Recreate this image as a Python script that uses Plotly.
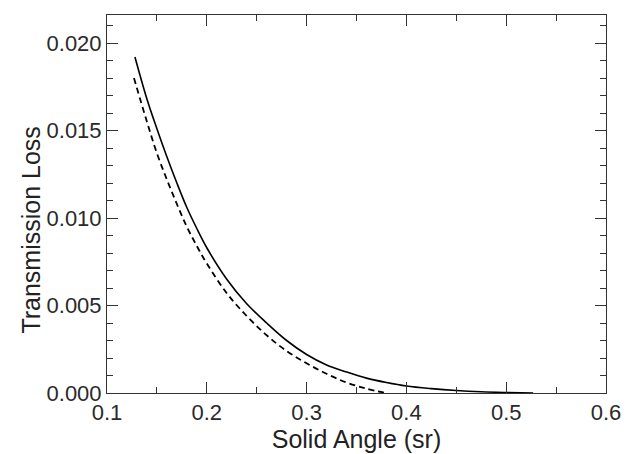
import plotly.graph_objects as go

# Solid curve
solid_x = [0.128, 0.14, 0.15, 0.16, 0.17, 0.18, 0.19, 0.20, 0.22, 0.24, 0.26, 0.28,
           0.30, 0.32, 0.34, 0.36, 0.38, 0.40, 0.425, 0.45, 0.475, 0.50, 0.527]
solid_y = [0.0192, 0.0168, 0.0151, 0.0135, 0.0120, 0.0106, 0.0094, 0.0083, 0.0065,
           0.0051, 0.0040, 0.0030, 0.0022, 0.0016, 0.0012, 0.00085, 0.0006, 0.0004,
           0.00025, 0.00014, 0.00007, 0.00003, 0.0]

# Dashed curve
dash_x = [0.127, 0.14, 0.15, 0.16, 0.17, 0.18, 0.19, 0.20, 0.22, 0.24, 0.26, 0.28,
          0.30, 0.32, 0.34, 0.36, 0.38]
dash_y = [0.0180, 0.0155, 0.0137, 0.0122, 0.0108, 0.0095, 0.0084, 0.0074, 0.0057,
          0.0044, 0.0033, 0.0024, 0.0017, 0.0011, 0.0006, 0.00025, 0.0]

x_ticks = [0.1, 0.2, 0.3, 0.4, 0.5, 0.6]
x_ticklabels = ["0.1", "0.2", "0.3", "0.4", "0.5", "0.6"]
y_ticks = [0.0, 0.005, 0.010, 0.015, 0.020]
y_ticklabels = ["0.000", "0.005", "0.010", "0.015", "0.020"]

fig = go.Figure()
fig.add_trace(go.Scatter(x=solid_x, y=solid_y, mode="lines",
                         line=dict(color="black", width=1.6, shape="spline", smoothing=1.0),
                         showlegend=False))
fig.add_trace(go.Scatter(x=dash_x, y=dash_y, mode="lines",
                         line=dict(color="black", width=1.8, dash="6px,4px",
                                   shape="spline", smoothing=1.0),
                         showlegend=False))

font_family = "Liberation Sans, Arial, sans-serif"
axis_common = dict(
    showgrid=False, zeroline=False, showline=True, linecolor="#333", linewidth=1,
    mirror="ticks", ticks="inside", ticklen=11, tickwidth=1, tickcolor="#333",
    tickfont=dict(family=font_family, size=22, color="#2a2a2a"),
)

# The page body has a default 8px margin, so the figure is sized to fit the window.
fig.update_layout(
    width=626, height=446,
    margin=dict(l=99, r=28, t=6, b=58),
    paper_bgcolor="white", plot_bgcolor="white",
    font=dict(family=font_family, color="#222"),
    xaxis=dict(
        range=[0.1, 0.6], tickvals=x_ticks, ticktext=x_ticklabels,
        minor=dict(dtick=0.05, ticks="inside", ticklen=6, tickcolor="#333"),
        title=dict(text="Solid Angle (sr)",
                   font=dict(family=font_family, size=25, color="#222"), standoff=5),
        **axis_common,
    ),
    yaxis=dict(
        range=[0.0, 0.0216], tickvals=y_ticks, ticktext=y_ticklabels,
        minor=dict(dtick=0.001, ticks="inside", ticklen=6, tickcolor="#333"),
        **axis_common,
    ),
    annotations=[dict(
        text="Transmission Loss", textangle=-90, showarrow=False,
        xref="paper", yref="paper", x=-0.152, y=0.43,
        xanchor="center", yanchor="middle",
        font=dict(family=font_family, size=25, color="#222"),
    )],
)

fig.write_html("out.html")
